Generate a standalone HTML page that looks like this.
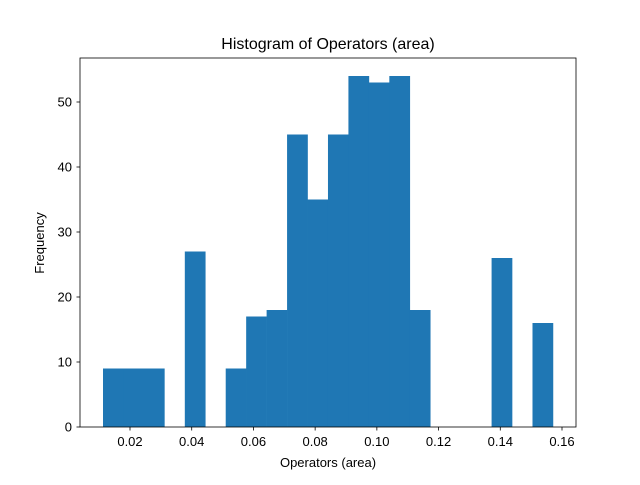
<!DOCTYPE html>
<html><head><meta charset="utf-8"><style>
body{margin:0;background:#fff}
svg{font-family:"Liberation Sans","DejaVu Sans",sans-serif}
</style></head><body>
<svg id="c" width="640" height="480" xmlns="http://www.w3.org/2000/svg">
<rect width="640" height="480" fill="#fff"/>
<g id="bars"></g>
<rect x="80" y="58" width="496" height="369" fill="none" stroke="#000" stroke-width="0.8"/>
<g id="xt"></g>
<g id="yt"></g>
<text x="328" y="49" text-anchor="middle" font-size="16">Histogram of Operators (area)</text>
<text x="328" y="467" text-anchor="middle" font-size="13">Operators (area)</text>
<text x="44" y="243" text-anchor="middle" font-size="13" transform="rotate(-90 44 243)">Frequency</text>
</svg>
<script>
const binStart = 0.01125;
const binWidth = 0.006628;
const counts = [9,9,9,0,27,0,9,17,18,45,35,45,54,53,54,18,0,0,0,26,0,16];
const xTicks = [0.02,0.04,0.06,0.08,0.10,0.12,0.14,0.16];
const xTickLabels = ["0.02","0.04","0.06","0.08","0.10","0.12","0.14","0.16"];
const yTicks = [0,10,20,30,40,50];
const NS="http://www.w3.org/2000/svg";
const xs=v=>130+(v-0.02)*3085.7;
const ys=v=>427-v*6.5;
const bars=document.getElementById('bars');
counts.forEach((c,i)=>{
  if(!c) return;
  const x0=xs(binStart+i*binWidth), x1=xs(binStart+(i+1)*binWidth);
  const r=document.createElementNS(NS,'rect');
  r.setAttribute('x',x0);r.setAttribute('width',x1-x0+0.3);
  r.setAttribute('y',ys(c));r.setAttribute('height',ys(0)-ys(c));
  r.setAttribute('fill','#1f77b4');
  
  
  bars.appendChild(r);
});
const xt=document.getElementById('xt');
xTicks.forEach((v,i)=>{
  const x=xs(v);
  const l=document.createElementNS(NS,'line');
  l.setAttribute('x1',x);l.setAttribute('x2',x);l.setAttribute('y1',427);l.setAttribute('y2',430.5);
  l.setAttribute('stroke','#000');l.setAttribute('stroke-width','0.8');
  
  
  xt.appendChild(l);
  const t=document.createElementNS(NS,'text');
  t.setAttribute('x',x);t.setAttribute('y',446);t.setAttribute('text-anchor','middle');t.setAttribute('font-size','13');
  t.textContent=xTickLabels[i];
  
  
  xt.appendChild(t);
});
const yt=document.getElementById('yt');
yTicks.forEach(v=>{
  const y=ys(v);
  const l=document.createElementNS(NS,'line');
  l.setAttribute('x1',76.5);l.setAttribute('x2',80);l.setAttribute('y1',y);l.setAttribute('y2',y);
  l.setAttribute('stroke','#000');l.setAttribute('stroke-width','0.8');
  
  
  yt.appendChild(l);
  const t=document.createElementNS(NS,'text');
  t.setAttribute('x',72);t.setAttribute('y',y+4.5);t.setAttribute('text-anchor','end');t.setAttribute('font-size','13');
  t.textContent=String(v);
  
  
  yt.appendChild(t);
});
</script>
</body></html>
